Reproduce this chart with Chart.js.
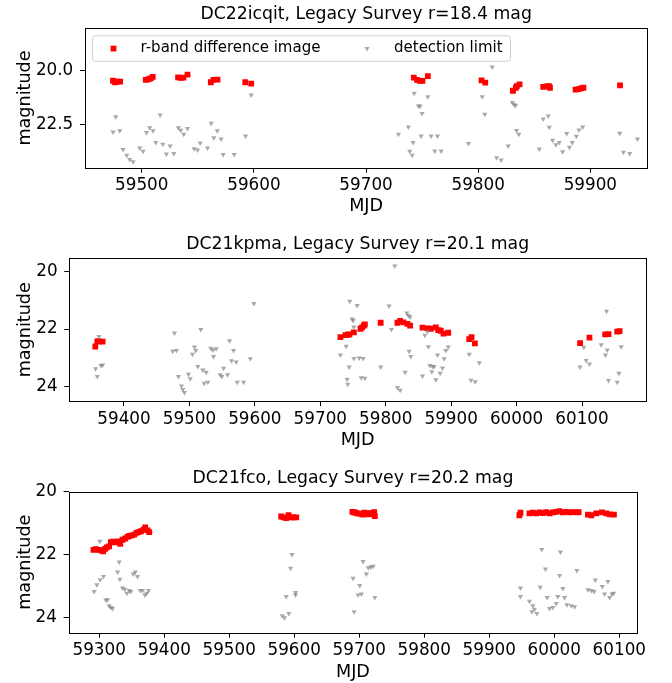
<!DOCTYPE html>
<html>
<head>
<meta charset="utf-8">
<script src="https://cdn.jsdelivr.net/npm/chart.js@4"></script>
<style>
  html, body { margin: 0; padding: 0; background: #fff; }
  #wrap { position: relative; width: 672px; height: 683px; }
  #wrap canvas { position: absolute; left: 0; top: 0; }
</style>
</head>
<body>
<div id="wrap">
  <canvas id="c1" width="672" height="683"></canvas>
  <canvas id="c2" width="672" height="683"></canvas>
  <canvas id="c3" width="672" height="683"></canvas>
</div>
<script>
// ---------- DC22icqit ----------
const icqitDetMjd = [59474.4,59476.2,59478.3,59480.7,59503.6,59506.0,59508.0,59509.8,59532.4,59534.8,59537.2,59540.8,
  59561.6,59564.0,59567.6,59592.3,59597.6,59742.6,59745.5,59747.9,59750.3,59755.1,59803.0,59806.3,
  59831.0,59833.6,59834.5,59836.9,59858.0,59861.0,59863.1,59864.0,59886.9,59889.3,59891.7,59893.8,59926.5];
const icqitDetMag = [20.46,20.53,20.50,20.50,20.42,20.39,20.35,20.28,20.30,20.33,20.31,20.17,
  20.53,20.42,20.41,20.53,20.60,20.31,20.42,20.47,20.47,20.24,20.44,20.55,
  20.93,20.79,20.71,20.63,20.75,20.72,20.71,20.79,20.88,20.85,20.82,20.79,20.68];
const icqitLimMjd = [59476.8,59474.4,59480.4,59483.3,59486.6,59489.3,59492.3,59498.2,59501.2,59504.2,59507.1,59510.1,
  59516.4,59512.5,59518.8,59525.3,59522.0,59528.6,59532.7,59534.8,59537.5,59540.8,59546.7,59549.7,
  59552.1,59558.6,59561.9,59567.3,59564.3,59570.8,59572.6,59582.4,59592.6,59597.6,59812.5,59728.9,
  59737.8,59742.0,59739.0,59741.1,59742.9,59746.7,59748.2,59750.0,59755.1,59749.1,59758.0,59763.7,
  59761.3,59767.0,59791.4,59803.6,59805.9,59816.4,59820.5,59826.8,59830.4,59832.1,59833.3,59834.2,
  59836.3,59854.5,59858.0,59862.5,59863.4,59866.4,59869.3,59872.3,59875.3,59878.9,59881.3,59883.9,
  59887.5,59889.9,59893.2,59926.2,59929.5,59935.1,59942.0];
const icqitLimMag = [22.15,22.86,22.81,23.69,23.96,24.15,24.26,23.61,23.77,22.89,22.67,22.81,
  22.07,23.36,23.44,23.52,23.90,23.87,22.67,22.78,22.97,22.70,23.65,23.71,
  23.38,23.61,22.45,22.81,23.14,23.19,23.92,23.92,23.05,21.13,19.81,22.97,
  22.63,23.36,23.77,23.96,21.05,21.65,21.64,22.00,21.21,23.05,23.05,23.05,
  23.76,23.76,23.40,21.21,22.03,24.07,24.18,23.52,21.48,21.57,21.62,22.80,
  22.97,23.66,22.25,22.11,22.64,23.25,23.46,23.36,23.79,22.94,23.58,23.36,
  23.07,22.77,22.63,22.92,23.82,23.87,23.19];
const icqitXTicks = [59500, 59600, 59700, 59800, 59900];
const icqitYTicks = [20.0, 22.5];

// ---------- DC21kpma ----------
const kpmaDetMjd = [59356.1,59359.2,59361.7,59367.3,59730.8,59738.5,59742.1,59744.6,59751.3,59761.5,59764.0,59766.6,
  59768.1,59792.3,59817.9,59822.0,59827.1,59833.2,59837.3,59856.2,59863.8,59868.9,59876.6,59880.2,
  59884.2,59888.3,59895.5,59927.6,59931.2,59936.3,60097.1,60111.4,60135.4,60140.5,60153.8,60157.4];
const kpmaDetMag = [22.61,22.43,22.43,22.44,22.28,22.21,22.20,22.19,22.12,21.99,21.94,21.88,
  21.84,21.78,21.78,21.72,21.77,21.82,21.88,21.95,21.98,21.99,21.94,22.04,
  22.06,22.16,22.13,22.35,22.28,22.50,22.49,22.30,22.19,22.18,22.09,22.07];
const kpmaLimMjd = [59361.7,59356.6,59359.2,59364.8,59367.3,59477.1,59474.5,59480.2,59483.2,59487.8,59489.9,59492.4,
  59498.5,59501.1,59504.7,59507.7,59509.8,59517.4,59512.8,59520.5,59525.6,59522.5,59528.1,59532.7,
  59535.8,59540.9,59536.8,59547.0,59549.6,59552.1,59558.3,59561.3,59567.5,59564.4,59571.5,59573.1,
  59582.8,59593.0,59598.6,59730.8,59739.5,59744.1,59741.0,59742.1,59745.1,59748.7,59750.2,59751.3,
  59756.4,59751.3,59759.4,59765.5,59762.5,59768.1,59813.8,59805.1,59808.7,59792.3,59817.9,59822.0,
  59829.6,59832.2,59834.7,59837.3,59835.7,59838.3,59856.2,59859.7,59863.8,59865.3,59867.4,59871.5,
  59874.0,59870.5,59876.6,59883.2,59879.1,59886.8,59889.3,59891.9,59895.5,59927.6,59943.0,59930.2,
  59936.8,60097.1,60102.8,60106.3,60111.4,60129.3,60135.9,60138.5,60137.5,60140.5,60153.8,60156.4,60159.9];
const kpmaLimMag = [22.26,23.39,23.66,23.27,23.26,22.14,22.78,22.75,23.66,23.99,24.11,24.22,
  23.58,23.74,22.88,22.63,22.75,22.02,23.31,23.43,23.51,23.89,23.86,22.67,
  22.73,22.69,22.96,23.60,23.66,23.37,23.60,22.41,22.75,23.11,23.15,23.86,
  23.86,23.04,21.11,22.91,22.60,23.33,23.75,23.93,21.03,21.65,21.70,21.93,
  21.18,23.03,23.01,23.03,23.70,23.72,19.80,21.20,22.02,23.33,24.04,24.14,
  23.51,21.44,21.53,21.58,22.78,22.96,23.64,22.22,22.09,22.62,23.27,23.31,
  23.31,23.49,23.77,23.54,22.91,23.36,23.04,22.75,22.63,22.88,23.18,23.79,
  23.84,23.33,22.64,23.10,23.22,22.55,22.91,22.73,21.38,23.80,23.86,23.54,22.62];
const kpmaXTicks = [59400, 59500, 59600, 59700, 59800, 59900, 60000, 60100];
const kpmaYTicks = [20, 22, 24];

// ---------- DC21fco ----------
const fcoDetMjd = [59291.3,59294.9,59299.0,59302.6,59306.2,59309.2,59311.8,59315.4,59318.0,59321.6,59325.7,59329.8,
  59332.4,59336.0,59340.1,59343.7,59346.2,59350.4,59353.9,59357.5,59360.6,59364.2,59368.3,59370.9,
  59374.5,59377.1,59580.0,59583.6,59587.7,59591.3,59595.4,59599.0,59603.1,59689.5,59692.0,59694.6,
  59698.0,59702.0,59705.0,59708.0,59712.0,59715.0,59718.0,59721.0,59723.0,59724.0,59946.4,59948.0,
  59961.8,59967.0,59972.1,59977.3,59982.4,59987.5,59992.7,59997.8,60003.0,60008.1,60013.2,60018.4,
  60023.5,60028.7,60035.3,60037.4,60051.8,60056.9,60064.6,60073.3,60080.0,60085.1,60091.8];
const fcoDetMag = [21.85,21.83,21.85,21.87,21.90,21.82,21.77,21.74,21.61,21.59,21.61,21.58,
  21.66,21.53,21.49,21.44,21.41,21.39,21.37,21.31,21.29,21.26,21.21,21.14,
  21.23,21.29,20.79,20.82,20.84,20.75,20.82,20.82,20.82,20.64,20.66,20.67,
  20.70,20.70,20.73,20.67,20.72,20.68,20.69,20.72,20.65,20.78,20.75,20.67,
  20.69,20.67,20.69,20.66,20.68,20.65,20.69,20.66,20.64,20.62,20.66,20.64,
  20.66,20.65,20.66,20.65,20.73,20.75,20.69,20.66,20.69,20.72,20.73];
const fcoLimMjd = [59301.0,59292.3,59296.4,59301.5,59306.7,59310.3,59312.8,59315.4,59318.0,59320.6,59330.8,59328.3,
  59331.9,59336.0,59339.6,59342.6,59346.2,59348.8,59352.4,59355.5,59359.1,59363.2,59366.8,59370.4,
  59373.0,59376.0,59596.5,59594.4,59587.7,59602.1,59602.1,59581.6,59585.2,59591.8,59690.5,59692.1,
  59698.2,59700.8,59703.4,59705.9,59711.0,59714.0,59717.8,59721.4,59724.0,59948.0,59948.0,59961.8,
  59965.5,59967.0,59969.6,59973.2,59980.8,59978.3,59986.5,59989.1,59992.7,59997.8,60003.0,60005.5,
  60008.1,60009.6,60013.2,60015.8,60019.4,60026.1,60031.2,60034.8,60051.8,60056.9,60061.0,60063.1,
  60073.8,60077.4,60082.5,60085.1,60088.7,60091.3];
const fcoLimMag = [21.58,23.18,22.96,22.80,22.70,23.45,23.44,23.63,23.69,23.72,22.24,22.56,
  22.79,23.07,23.11,23.23,23.15,23.18,22.62,22.56,22.70,23.15,23.15,23.29,
  23.23,23.15,22.00,22.44,23.34,23.21,23.29,23.95,24.01,23.88,22.76,23.82,
  23.29,22.99,23.26,22.22,22.62,22.42,22.40,22.37,23.37,23.07,23.34,23.49,
  23.82,23.63,23.74,23.88,21.84,23.04,22.46,23.37,23.72,23.69,23.56,23.34,
  22.67,21.92,23.08,23.37,23.60,23.63,23.66,22.51,23.12,23.15,23.18,22.81,
  23.02,23.26,22.86,23.37,23.26,23.23];
const fcoXTicks = [59300, 59400, 59500, 59600, 59700, 59800, 59900, 60000, 60100];
const fcoYTicks = [20, 22, 24];

const FONT = 'DejaVu Sans';
Chart.defaults.font.family = FONT;
Chart.defaults.color = '#000';

const pts = (xs, ys) => xs.map((x, i) => ({ x, y: ys[i] }));

// Black box around each plotting area
const framePlugin = {
  id: 'frame',
  afterDraw(chart) {
    const { ctx, chartArea: a } = chart;
    const l = Math.round(a.left), t = Math.round(a.top);
    const r = Math.round(a.right), b = Math.round(a.bottom);
    ctx.save();
    ctx.strokeStyle = '#000';
    ctx.lineWidth = 1;
    ctx.strokeRect(l + 0.5, t + 0.5, r - l, b - t);
    ctx.restore();
  }
};

// Legend drawn inside the plotting area, upper left
const insetLegendPlugin = {
  id: 'insetLegend',
  afterDatasetsDraw(chart, args, opts) {
    if (!opts.display) return;
    const { ctx, chartArea: a } = chart;
    const x = a.left + 7.5, y = a.top + 7.5, w = 418, h = 25.5, rad = 3;
    ctx.save();
    ctx.beginPath();
    ctx.moveTo(x + rad, y);
    ctx.arcTo(x + w, y, x + w, y + h, rad);
    ctx.arcTo(x + w, y + h, x, y + h, rad);
    ctx.arcTo(x, y + h, x, y, rad);
    ctx.arcTo(x, y, x + w, y, rad);
    ctx.closePath();
    ctx.fillStyle = 'rgba(255,255,255,0.8)';
    ctx.fill();
    ctx.strokeStyle = '#d0d0d0';
    ctx.lineWidth = 1;
    ctx.stroke();
    const cy = y + h / 2;
    const slots = [{ mx: x + 21, tx: x + 48 }, { mx: x + 274.5, tx: x + 301.5 }];
    chart.data.datasets.forEach((ds, i) => {
      const s = slots[i];
      ctx.fillStyle = ds.backgroundColor;
      Chart.helpers.drawPoint(ctx, {
        pointStyle: ds.pointStyle, rotation: ds.pointRotation || 0,
        radius: ds.pointRadius, borderWidth: 0
      }, s.mx, cy);
      ctx.fillStyle = '#000';
      ctx.font = '15px "' + FONT + '"';
      ctx.textBaseline = 'middle';
      ctx.textAlign = 'left';
      ctx.fillText(ds.label, s.tx, cy);
    });
    ctx.restore();
  }
};

const TICK_SIZE = 16.8, LABEL_SIZE = 17.6, TITLE_SIZE = 17.3;
const PAGE_W = 672, PAGE_H = 683, X_AXIS_H = 50;

function makePanel(id, spec) {
  const lh = TITLE_SIZE * 1.2;
  const padTop = spec.titleY - 4 - lh / 2;
  const titlePadBottom = spec.top - padTop - 4 - lh;
  const xTitlePadBottom = spec.bottom + X_AXIS_H - LABEL_SIZE * 1.2 / 2 - spec.mjdY;
  return new Chart(document.getElementById(id), {
    type: 'scatter',
    data: {
      datasets: [
        {
          label: 'r-band difference image', data: pts(spec.detX, spec.detY),
          pointStyle: 'rect', pointRadius: 4.1, pointHoverRadius: 4.1,
          backgroundColor: '#ff0000', borderWidth: 0, order: 2
        },
        {
          label: 'detection limit', data: pts(spec.limX, spec.limY),
          pointStyle: 'triangle', pointRotation: 180, pointRadius: 3.0, pointHoverRadius: 3.0,
          backgroundColor: 'rgba(128,128,128,0.68)', borderWidth: 0, order: 1
        }
      ]
    },
    options: {
      responsive: false, animation: false, events: [],
      layout: { padding: { left: 0, right: PAGE_W - spec.right, top: padTop, bottom: PAGE_H - spec.bottom - X_AXIS_H } },
      plugins: {
        legend: { display: false },
        tooltip: { enabled: false },
        title: {
          display: true, text: spec.title, fullSize: false, color: '#000',
          font: { size: TITLE_SIZE, weight: 'normal' },
          padding: { top: 4, bottom: titlePadBottom }
        },
        insetLegend: { display: !!spec.legend }
      },
      scales: {
        x: {
          type: 'linear', min: spec.xMin, max: spec.xMax,
          afterBuildTicks: s => { s.ticks = spec.xTicks.map(v => ({ value: v })); },
          afterFit: s => { s.height = X_AXIS_H; },
          ticks: { callback: v => String(v), font: { size: TICK_SIZE }, color: '#000', padding: 3, maxRotation: 0, autoSkip: false },
          grid: { display: true, drawOnChartArea: false, drawTicks: true, tickLength: 5, tickColor: '#000', tickWidth: 1 },
          border: { display: false },
          title: { display: true, text: 'MJD', color: '#000', font: { size: LABEL_SIZE }, padding: { top: 0, bottom: xTitlePadBottom } }
        },
        y: {
          type: 'linear', reverse: true, min: spec.yMin, max: spec.yMax,
          afterBuildTicks: s => { s.ticks = spec.yTicks.map(v => ({ value: v })); },
          afterFit: s => { s.width = spec.left; },
          ticks: { callback: v => v.toFixed(spec.yDigits), font: { size: TICK_SIZE }, color: '#000', padding: 6.7, autoSkip: false },
          grid: { display: true, drawOnChartArea: false, drawTicks: true, tickLength: 5, tickColor: '#000', tickWidth: 1 },
          border: { display: false },
          title: { display: true, text: 'magnitude', color: '#000', font: { size: LABEL_SIZE }, padding: { top: 14.5, bottom: 0 } }
        }
      }
    },
    plugins: [framePlugin, insetLegendPlugin]
  });
}

makePanel('c1', {
  title: 'DC22icqit, Legacy Survey r=18.4 mag', legend: true,
  detX: icqitDetMjd, detY: icqitDetMag, limX: icqitLimMjd, limY: icqitLimMag,
  xTicks: icqitXTicks, yTicks: icqitYTicks, yDigits: 1,
  xMin: 59449.4, xMax: 59950.8, yMin: 18.0, yMax: 24.54,
  left: 85, right: 647.3, top: 28.3, bottom: 167.7, titleY: 14.5, mjdY: 206
});
makePanel('c2', {
  title: 'DC21kpma, Legacy Survey r=20.1 mag',
  detX: kpmaDetMjd, detY: kpmaDetMag, limX: kpmaLimMjd, limY: kpmaLimMag,
  xTicks: kpmaXTicks, yTicks: kpmaYTicks, yDigits: 0,
  xMin: 59316.4, xMax: 60197.8, yMin: 19.53, yMax: 24.52,
  left: 69.3, right: 646, top: 258.3, bottom: 401.2, titleY: 244.5, mjdY: 440
});
makePanel('c3', {
  title: 'DC21fco, Legacy Survey r=20.2 mag',
  detX: fcoDetMjd, detY: fcoDetMag, limX: fcoLimMjd, limY: fcoLimMag,
  xTicks: fcoXTicks, yTicks: fcoYTicks, yDigits: 0,
  xMin: 59253, xMax: 60127.7, yMin: 20.0, yMax: 24.49,
  left: 68.6, right: 637.3, top: 491.7, bottom: 632.7, titleY: 478.7, mjdY: 672
});
</script>
</body>
</html>
